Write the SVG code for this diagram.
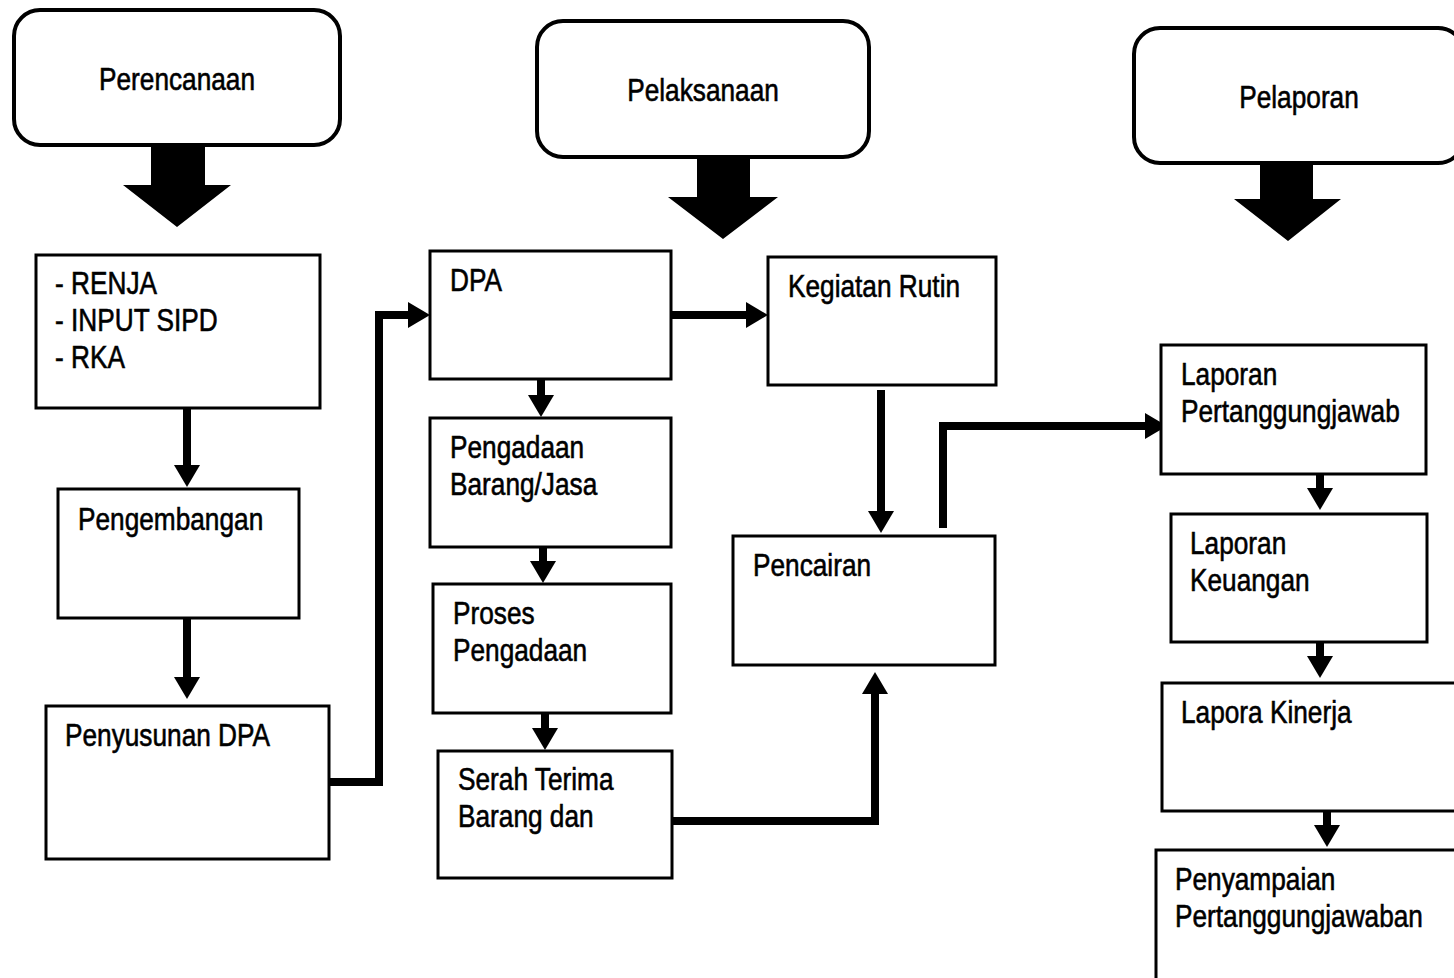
<svg xmlns="http://www.w3.org/2000/svg" width="1454" height="978" viewBox="0 0 1454 978">
<defs>
<style>
.rb{fill:#fff;stroke:#000;stroke-width:4}
.bx{fill:#fff;stroke:#000;stroke-width:3}
.t{font-family:"Liberation Sans",Arial,sans-serif;font-size:32px;fill:#000;stroke:#000;stroke-width:0.6}
.c{fill:none;stroke:#000;stroke-width:8;stroke-linejoin:miter}
.ba{fill:#000}
</style>
<marker id="ah" markerUnits="userSpaceOnUse" markerWidth="24" markerHeight="26" viewBox="0 0 22 26" refX="1" refY="13" orient="auto">
<path d="M0,0 L22,13 L0,26 z" fill="#000"/>
</marker>
</defs>
<rect width="1454" height="978" fill="#fff"/>

<g id="connectors">
<polygon class="ba" points="151,145 205,145 205,185 231,185 177,227 123,185 151,185"/>
<polygon class="ba" points="697,157 750,157 750,197 778,197 723,239 668,197 697,197"/>
<polygon class="ba" points="1260,163 1313,163 1313,199 1341,199 1288,241 1234,199 1260,199"/>
<path class="c" d="M187,408 V466" marker-end="url(#ah)"/>
<path class="c" d="M187,618 V678" marker-end="url(#ah)"/>
<path class="c" d="M329,782 H379 V315 H409" stroke-width="7" marker-end="url(#ah)"/>
<path class="c" d="M671,315 H747" marker-end="url(#ah)"/>
<path class="c" d="M541,379 V396" marker-end="url(#ah)"/>
<path class="c" d="M543,547 V562" marker-end="url(#ah)"/>
<path class="c" d="M545,713 V729" marker-end="url(#ah)"/>
<path class="c" d="M881,390 V512" marker-end="url(#ah)"/>
<path class="c" d="M672,821 H875 V693" marker-end="url(#ah)"/>
<path class="c" d="M943,528 V426 H1146" marker-end="url(#ah)"/>
<path class="c" d="M1320,474 V489" marker-end="url(#ah)"/>
<path class="c" d="M1320,642 V657" marker-end="url(#ah)"/>
<path class="c" d="M1327,811 V826" marker-end="url(#ah)"/>
</g>

<g id="perencanaan">
<rect class="rb" x="14" y="10" width="326" height="135" rx="26"/>
<text class="t" transform="translate(177,90) scale(0.82,1)" text-anchor="middle">Perencanaan</text>
</g>
<g id="pelaksanaan">
<rect class="rb" x="537" y="21" width="332" height="136" rx="26"/>
<text class="t" transform="translate(703,101) scale(0.82,1)" text-anchor="middle">Pelaksanaan</text>
</g>
<g id="pelaporan">
<rect class="rb" x="1134" y="28" width="330" height="135" rx="26"/>
<text class="t" transform="translate(1299,108) scale(0.82,1)" text-anchor="middle">Pelaporan</text>
</g>

<g id="renja">
<rect class="bx" x="36" y="255" width="284" height="153"/>
<text class="t" transform="translate(55,294) scale(0.82,1)">- RENJA</text>
<text class="t" transform="translate(55,331) scale(0.82,1)">- INPUT SIPD</text>
<text class="t" transform="translate(55,368) scale(0.82,1)">- RKA</text>
</g>
<g id="pengembangan">
<rect class="bx" x="58" y="489" width="241" height="129"/>
<text class="t" transform="translate(78,530) scale(0.82,1)">Pengembangan</text>
</g>
<g id="penyusunan">
<rect class="bx" x="46" y="706" width="283" height="153"/>
<text class="t" transform="translate(65,746) scale(0.82,1)">Penyusunan DPA</text>
</g>

<g id="dpa">
<rect class="bx" x="430" y="251" width="241" height="128"/>
<text class="t" transform="translate(450,291) scale(0.82,1)">DPA</text>
</g>
<g id="pengadaan">
<rect class="bx" x="430" y="418" width="241" height="129"/>
<text class="t" transform="translate(450,458) scale(0.82,1)">Pengadaan</text>
<text class="t" transform="translate(450,495) scale(0.82,1)">Barang/Jasa</text>
</g>
<g id="proses">
<rect class="bx" x="433" y="584" width="238" height="129"/>
<text class="t" transform="translate(453,624) scale(0.82,1)">Proses</text>
<text class="t" transform="translate(453,661) scale(0.82,1)">Pengadaan</text>
</g>
<g id="serah">
<rect class="bx" x="438" y="751" width="234" height="127"/>
<text class="t" transform="translate(458,790) scale(0.82,1)">Serah Terima</text>
<text class="t" transform="translate(458,827) scale(0.82,1)">Barang dan</text>
</g>
<g id="kegiatan">
<rect class="bx" x="768" y="257" width="228" height="128"/>
<text class="t" transform="translate(788,297) scale(0.82,1)">Kegiatan Rutin</text>
</g>
<g id="pencairan">
<rect class="bx" x="733" y="536" width="262" height="129"/>
<text class="t" transform="translate(753,576) scale(0.82,1)">Pencairan</text>
</g>

<g id="lpj">
<rect class="bx" x="1161" y="345" width="265" height="129"/>
<text class="t" transform="translate(1181,385) scale(0.82,1)">Laporan</text>
<text class="t" transform="translate(1181,422) scale(0.82,1)">Pertanggungjawab</text>
</g>
<g id="keuangan">
<rect class="bx" x="1171" y="514" width="256" height="128"/>
<text class="t" transform="translate(1190,554) scale(0.82,1)">Laporan</text>
<text class="t" transform="translate(1190,591) scale(0.82,1)">Keuangan</text>
</g>
<g id="kinerja">
<rect class="bx" x="1162" y="683" width="300" height="128"/>
<text class="t" transform="translate(1181,723) scale(0.82,1)">Lapora Kinerja</text>
</g>
<g id="penyampaian">
<rect class="bx" x="1156" y="850" width="310" height="140"/>
<text class="t" transform="translate(1175,890) scale(0.82,1)">Penyampaian</text>
<text class="t" transform="translate(1175,927) scale(0.82,1)">Pertanggungjawaban</text>
</g>
</svg>
